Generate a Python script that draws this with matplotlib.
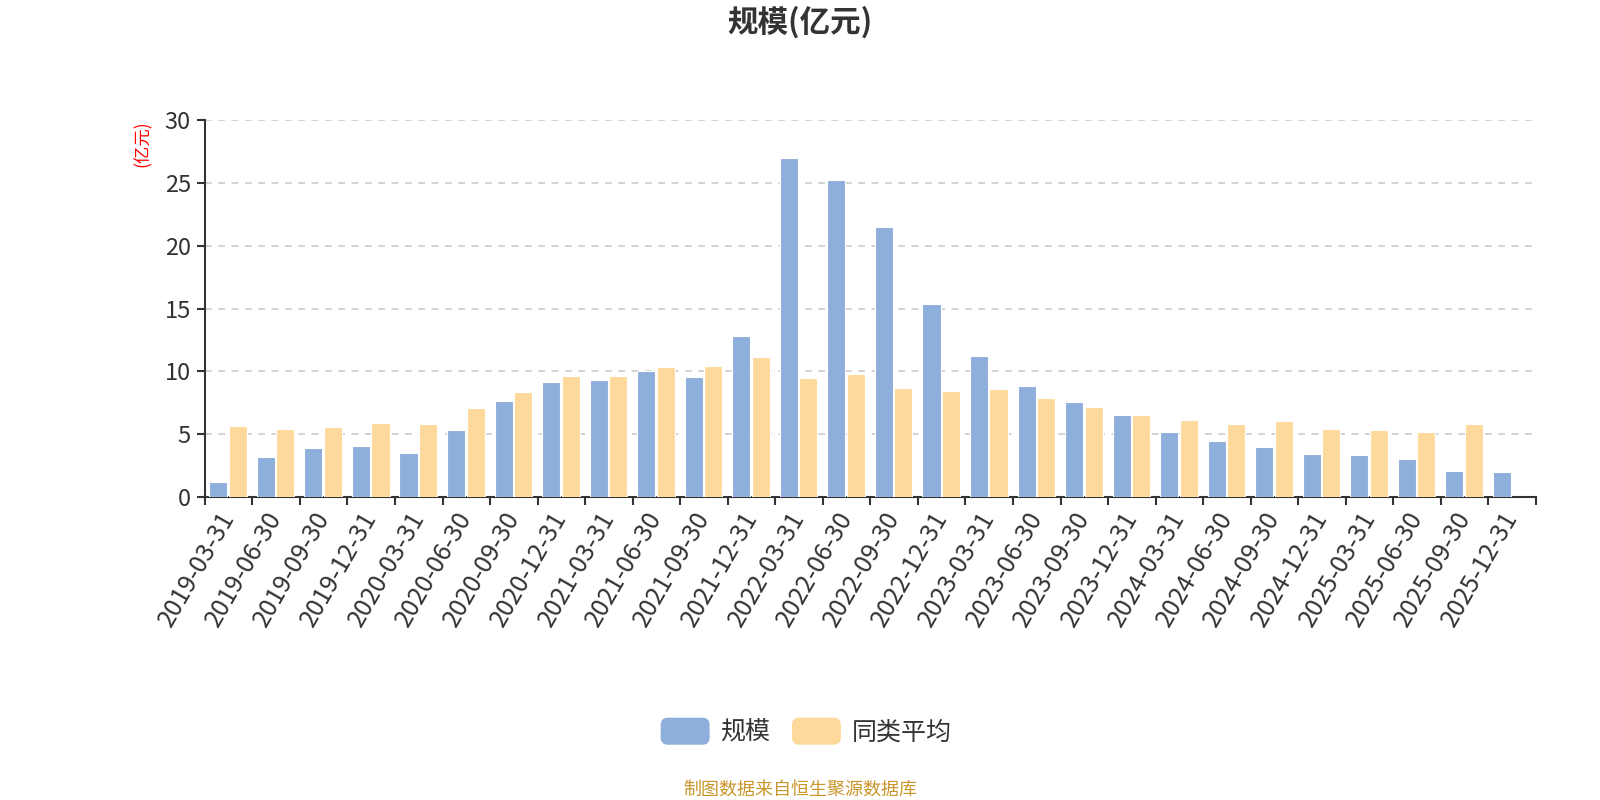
import numpy as np
import matplotlib
matplotlib.use("Agg")
import matplotlib.pyplot as plt
import matplotlib.patches as mpatches
from matplotlib.legend_handler import HandlerPatch

plt.rcParams['font.family'] = ['Noto Sans CJK SC', 'DejaVu Sans']

# ── 数据 ─────────────────────────────────────────────────────────────────────
dates = [
    "2019-03-31", "2019-06-30", "2019-09-30", "2019-12-31",
    "2020-03-31", "2020-06-30", "2020-09-30", "2020-12-31",
    "2021-03-31", "2021-06-30", "2021-09-30", "2021-12-31",
    "2022-03-31", "2022-06-30", "2022-09-30", "2022-12-31",
    "2023-03-31", "2023-06-30", "2023-09-30", "2023-12-31",
    "2024-03-31", "2024-06-30", "2024-09-30", "2024-12-31",
    "2025-03-31", "2025-06-30", "2025-09-30", "2025-12-31",
]
scale = [1.17, 3.16, 3.86, 4.04, 3.46, 5.32, 7.61, 9.15,
         9.28, 10.03, 9.52, 12.79, 27.02, 25.24, 21.49, 15.35,
         11.20, 8.83, 7.53, 6.52, 5.13, 4.41, 3.99, 3.40,
         3.30, 3.03, 2.07, 1.97]
# 最后一期无同类平均
peer_avg = [5.66, 5.40, 5.56, 5.88, 5.80, 7.05, 8.32, 9.65,
            9.65, 10.35, 10.40, 11.12, 9.44, 9.76, 8.70, 8.43,
            8.62, 7.90, 7.15, 6.54, 6.09, 5.80, 6.06, 5.40,
            5.29, 5.16, 5.82]

c_blue = "#8eaedb"
c_orange = "#fed99c"
c_text = "#333333"


def rounded_handle(legend, orig_handle, xdescent, ydescent, width, height, fontsize):
    """圆角图例色块"""
    return mpatches.FancyBboxPatch(
        (-xdescent, -ydescent), width, height,
        boxstyle=mpatches.BoxStyle("Round", pad=0, rounding_size=height * 0.25))


fig = plt.figure(figsize=(16, 8), dpi=100)
ax = fig.add_axes([0.128, 0.379, 0.832, 0.4705])

x = np.arange(len(dates))
w = 0.38
ax.bar(x - 0.215, scale, width=w, color=c_blue, edgecolor="white", lw=0.8, zorder=3)
ax.bar(x[:len(peer_avg)] + 0.195, peer_avg, width=w, color=c_orange,
       edgecolor="white", lw=0.8, zorder=3)

ax.set_xlim(-0.5, len(dates) - 0.5)
ax.set_ylim(0, 30)
ax.set_yticks(np.arange(0, 31, 5))
ax.yaxis.grid(True, color="#cccccc", ls=(0, (4, 4)), lw=1.2, zorder=0)

# 刻度在类目边界，标签在类目中心
ax.set_xticks(np.arange(-0.5, len(dates), 1.0))
ax.set_xticklabels([])
ax.set_xticks(x, minor=True)
ax.set_xticklabels(dates, minor=True, rotation=60, ha="right", va="center",
                   rotation_mode="anchor", fontsize=18, color=c_text)
ax.tick_params(axis="x", which="minor", length=0, pad=12)
ax.tick_params(axis="x", which="major", length=6, width=1.5, color=c_text)
ax.tick_params(axis="y", length=6, width=1.5, color=c_text,
               labelsize=17, labelcolor=c_text, pad=4)

for side in ("top", "right"):
    ax.spines[side].set_visible(False)
for side in ("left", "bottom"):
    ax.spines[side].set_color(c_text)
    ax.spines[side].set_linewidth(1.5)

fig.text(0.089, 0.821, "(亿元)", rotation=90, color="red",
         fontsize=12.5, ha="center", va="center")

fig.suptitle("规模(亿元)", fontsize=22, fontweight="bold",
             color=c_text, x=0.5, y=0.972, va="center")

handles = [
    mpatches.Patch(color=c_blue, label="规模"),
    mpatches.Patch(color=c_orange, label="同类平均"),
]
fig.legend(handles=handles, loc="center", bbox_to_anchor=(0.504, 0.085),
           ncol=2, frameon=False, fontsize=18, handlelength=1.9,
           handleheight=1.2, columnspacing=0.9, handletextpad=0.45,
           labelcolor=c_text,
           handler_map={mpatches.Patch: HandlerPatch(patch_func=rounded_handle)})

fig.text(0.5, 0.013, "制图数据来自恒生聚源数据库", color="#c9962c",
         fontsize=13, ha="center", va="center")

fig.savefig("out.png", dpi=100)
